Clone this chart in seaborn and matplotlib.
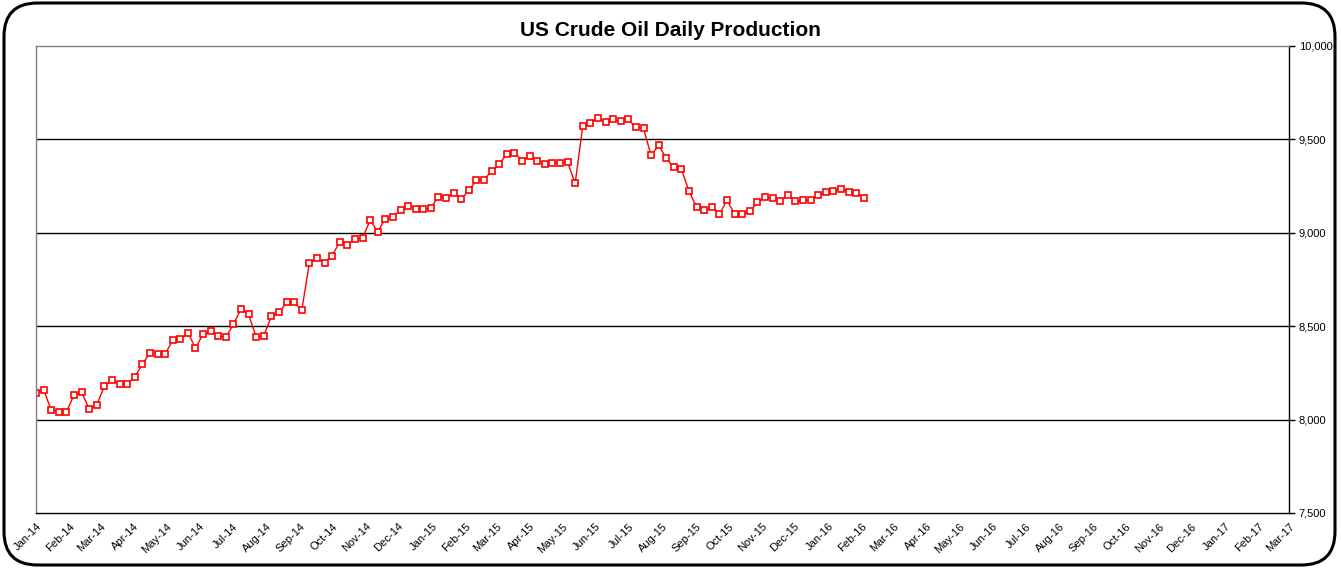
import numpy as np
import pandas as pd
import seaborn as sns
import matplotlib.pyplot as plt
import matplotlib.dates as mdates
from matplotlib.patches import FancyBboxPatch

## DATA ##
# weekly US crude oil production, thousand barrels/day
start_date = '2014-01-03'
production = [
    8142, 8160, 8051, 8041, 8041, 8131, 8147, 8057, 8078, 8179,
    8211, 8190, 8190, 8227, 8296, 8356, 8351, 8351, 8424, 8429,
    8466, 8383, 8457, 8473, 8447, 8441, 8511, 8592, 8563, 8441,
    8450, 8552, 8574, 8628, 8628, 8586, 8838, 8865, 8838, 8878,
    8952, 8936, 8968, 8973, 9067, 9006, 9076, 9087, 9121, 9141,
    9130, 9125, 9134, 9194, 9188, 9215, 9179, 9228, 9281, 9285,
    9330, 9367, 9423, 9428, 9387, 9409, 9387, 9367, 9376, 9375,
    9378, 9265, 9572, 9588, 9615, 9592, 9607, 9596, 9607, 9564,
    9559, 9414, 9470, 9398, 9350, 9339, 9222, 9136, 9122, 9136,
    9099, 9175, 9099, 9099, 9115, 9163, 9190, 9184, 9168, 9205,
    9169, 9174, 9174, 9201, 9219, 9224, 9235, 9219, 9214, 9187,
]
y_ticks = [7500, 8000, 8500, 9000, 9500, 10000]

df = pd.DataFrame({
    'week': pd.date_range(start_date, periods=len(production), freq='7D'),
    'kbd': production,
})
month_ticks = pd.date_range(start_date, periods=39, freq=pd.DateOffset(months=1))

## PLOT ##
sns.set_style('white')
plt.rcParams['font.family'] = ['Liberation Sans', 'DejaVu Sans']
plt.rcParams['text.color'] = 'black'
plt.rcParams['xtick.color'] = 'black'
plt.rcParams['ytick.color'] = 'black'

fig = plt.figure(figsize=(13.41, 5.69), dpi=100)
ax = fig.add_axes([36 / 1341, 1 - 513 / 569, (1289 - 36) / 1341, (513 - 46) / 569])

sns.lineplot(data=df, x='week', y='kbd', ax=ax, color='red', linewidth=1,
             marker='s', markersize=4.3, markerfacecolor='white',
             markeredgecolor='red', markeredgewidth=1.2)

ax.set_xlim(month_ticks[0], month_ticks[-1])
ax.set_ylim(7500, 10000)
ax.set_xticks(month_ticks)
ax.xaxis.set_major_formatter(mdates.DateFormatter('%b-%y'))
plt.setp(ax.get_xticklabels(), rotation=45, ha='right', rotation_mode='anchor', fontsize=8)

ax.yaxis.tick_right()
ax.set_yticks(y_ticks)
ax.set_yticklabels([f'{v:,}' for v in y_ticks], fontsize=8)
ax.tick_params(axis='both', direction='out', length=4, width=1, color='black', labelcolor='black')
ax.tick_params(axis='x', pad=2)
ax.tick_params(axis='y', pad=3)
ax.set_xlabel('')
ax.set_ylabel('')

for v in y_ticks[1:-1]:
    ax.axhline(v, color='black', linewidth=1, zorder=0)

for side in ['left', 'top']:
    ax.spines[side].set_color('gray')
    ax.spines[side].set_linewidth(1)
for side in ['right', 'bottom']:
    ax.spines[side].set_color('black')
    ax.spines[side].set_linewidth(1)

fig.text(0.5, 1 - 31 / 569, 'US Crude Oil Daily Production', ha='center', va='center',
         fontsize=15, fontweight='bold', color='black')

# rounded frame around the whole chart
frame = FancyBboxPatch((4 / 1341, 4 / 569), 1331 / 1341, 562 / 569,
                       boxstyle='round,pad=0,rounding_size=0.025',
                       transform=fig.transFigure, facecolor='none',
                       edgecolor='black', linewidth=2.2, mutation_aspect=1341 / 569)
fig.patches.append(frame)

fig.savefig('out.png', dpi=100)
